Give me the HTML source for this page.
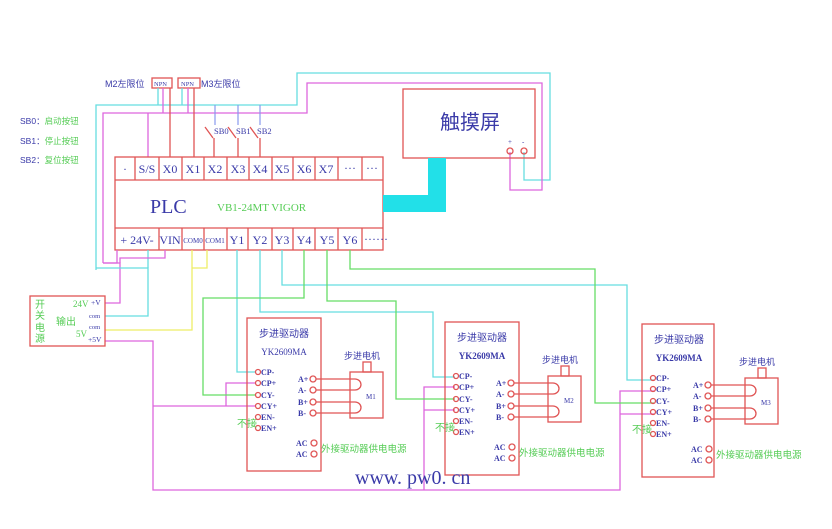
<!DOCTYPE html>
<html><head><meta charset="utf-8"><style>
html,body{margin:0;padding:0;background:#fff;}
svg{display:block;}
text{font-family:"Liberation Serif","Noto Serif CJK SC",serif;}
.cj{font-family:"Liberation Sans","Noto Sans CJK SC",sans-serif;}
.b{fill:#3a3aa8;}
.g{fill:#55cc55;}
.r{stroke:#e05555;fill:none;stroke-width:1.3;}
.c{stroke:#66dde0;fill:none;stroke-width:1.3;}
.m{stroke:#dd66dd;fill:none;stroke-width:1.3;}
.gr{stroke:#66dd66;fill:none;stroke-width:1.3;}
.y{stroke:#eeee66;fill:none;stroke-width:1.3;}
.bl{stroke:#8899ee;fill:none;stroke-width:1.2;}
</style></head><body>
<svg width="832" height="529" viewBox="0 0 832 529" xmlns="http://www.w3.org/2000/svg">
<!-- top wires -->
<polyline class="c" points="96,270 96,105 297,105 297,73 550,73 550,180 524,180 524,152"/>
<polyline class="m" points="103,263 103,113 307,113 307,83 542,83 542,190 510,190 510,152"/>
<!-- limit switches -->
<rect x="152" y="78" width="20" height="10" class="r"/>
<rect x="178" y="78" width="22" height="10" class="r"/>
<text x="154" y="86" font-size="6.5" class="b">NPN</text>
<text x="181" y="86" font-size="6.5" class="b">NPN</text>
<text x="105" y="87" font-size="9" class="b cj">M2左限位</text>
<text x="201" y="87" font-size="9" class="b cj">M3左限位</text>
<line class="c" x1="158" y1="88" x2="158" y2="105"/>
<line class="m" x1="163" y1="88" x2="163" y2="113"/>
<line class="r" x1="170" y1="88" x2="170" y2="157"/>
<line class="c" x1="182" y1="88" x2="182" y2="105"/>
<line class="m" x1="188" y1="88" x2="188" y2="113"/>
<line class="r" x1="194" y1="88" x2="194" y2="157"/>
<line class="m" x1="148" y1="113" x2="148" y2="157"/>
<!-- buttons -->
<line class="bl" x1="215" y1="105" x2="215" y2="125"/>
<line class="bl" x1="238" y1="105" x2="238" y2="125"/>
<line class="bl" x1="260" y1="105" x2="260" y2="125"/>
<line class="r" x1="205" y1="127" x2="213" y2="138"/>
<line class="r" x1="228" y1="127" x2="236" y2="138"/>
<line class="r" x1="250" y1="127" x2="258" y2="138"/>
<line class="r" x1="214" y1="138" x2="214" y2="157"/>
<line class="r" x1="238" y1="138" x2="238" y2="157"/>
<line class="r" x1="260" y1="138" x2="260" y2="157"/>
<text x="214" y="134" font-size="8.5" class="b">SB0</text>
<text x="236" y="134" font-size="8.5" class="b">SB1</text>
<text x="257" y="134" font-size="8.5" class="b">SB2</text>
<text x="20" y="124" font-size="8.5" class="cj"><tspan class="b">SB0：</tspan><tspan class="g">启动按钮</tspan></text>
<text x="20" y="144" font-size="8.5" class="cj"><tspan class="b">SB1：</tspan><tspan class="g">停止按钮</tspan></text>
<text x="20" y="163" font-size="8.5" class="cj"><tspan class="b">SB2：</tspan><tspan class="g">复位按钮</tspan></text>
<!-- PLC -->
<rect x="115" y="157" width="268" height="93" class="r"/>
<line class="r" x1="115" y1="180" x2="383" y2="180"/>
<line class="r" x1="115" y1="228" x2="383" y2="228"/>
<g class="r">
<line x1="135" y1="157" x2="135" y2="180"/><line x1="159" y1="157" x2="159" y2="180"/><line x1="182" y1="157" x2="182" y2="180"/><line x1="204" y1="157" x2="204" y2="180"/><line x1="227" y1="157" x2="227" y2="180"/><line x1="249" y1="157" x2="249" y2="180"/><line x1="272" y1="157" x2="272" y2="180"/><line x1="293" y1="157" x2="293" y2="180"/><line x1="315" y1="157" x2="315" y2="180"/><line x1="338" y1="157" x2="338" y2="180"/><line x1="362" y1="157" x2="362" y2="180"/>
<line x1="159" y1="228" x2="159" y2="250"/><line x1="182" y1="228" x2="182" y2="250"/><line x1="204" y1="228" x2="204" y2="250"/><line x1="227" y1="228" x2="227" y2="250"/><line x1="248" y1="228" x2="248" y2="250"/><line x1="272" y1="228" x2="272" y2="250"/><line x1="293" y1="228" x2="293" y2="250"/><line x1="315" y1="228" x2="315" y2="250"/><line x1="338" y1="228" x2="338" y2="250"/><line x1="362" y1="228" x2="362" y2="250"/>
</g>
<g font-size="12" class="b" text-anchor="middle">
<text x="125" y="173">·</text><text x="147" y="173">S/S</text><text x="170" y="173">X0</text><text x="193" y="173">X1</text><text x="215" y="173">X2</text><text x="238" y="173">X3</text><text x="260" y="173">X4</text><text x="282" y="173">X5</text><text x="304" y="173">X6</text><text x="326" y="173">X7</text><text x="350" y="172">···</text><text x="372" y="172">···</text>
<text x="137" y="244">+ 24V-</text><text x="170" y="244">VIN</text><text x="193" y="243" font-size="7">COM0</text><text x="215" y="243" font-size="7">COM1</text><text x="237" y="244">Y1</text><text x="260" y="244">Y2</text><text x="282" y="244">Y3</text><text x="304" y="244">Y4</text><text x="327" y="244">Y5</text><text x="350" y="244">Y6</text>
</g>
<text x="364" y="243" font-size="12" class="b">······</text>
<text x="150" y="213" font-size="20" class="b">PLC</text>
<text x="217" y="211" font-size="11" class="g">VB1-24MT  VIGOR</text>
<!-- touch screen -->
<rect x="403" y="89" width="132" height="69" class="r"/>
<text x="470" y="129" font-size="20" class="b cj" text-anchor="middle">触摸屏</text>
<text x="508" y="144" font-size="7" class="b">+</text><text x="522" y="144" font-size="7" class="b">-</text>
<circle cx="510" cy="151" r="3" class="r"/><circle cx="524" cy="151" r="3" class="r"/>
<path d="M383,195 H428 V158 H446 V212 H383 Z" fill="#22e0e8"/>
<!-- lower PLC wires -->
<polyline class="m" points="117,250 117,263 103,263"/>
<polyline class="m" points="103,263 120,263 120,303 105,303"/>
<polyline class="c" points="96,268 148,268 148,316 105,316"/>
<line class="c" x1="148" y1="250" x2="148" y2="268"/>
<polyline class="m" points="165,250 165,258 120,258 120,263"/>
<polyline class="y" points="192,250 192,330 105,330"/>
<polyline class="y" points="207,250 207,268 192,268"/>
<polyline class="m" points="105,341 153,341 153,490 620,490 620,391 655,391"/>
<line class="m" x1="153" y1="406" x2="256" y2="406"/>
<polyline class="m" points="226,406 226,383 256,383"/>
<polyline class="m" points="424,490 424,387 455,387"/>
<line class="m" x1="424" y1="410" x2="455" y2="410"/>
<line class="m" x1="620" y1="414" x2="654" y2="414"/>
<polyline class="c" points="237,250 237,372 255,372"/>
<polyline class="c" points="260,250 260,312 433,312 433,377 455,377"/>
<polyline class="c" points="282,250 282,285 627,285 627,380 654,380"/>
<polyline class="gr" points="304,250 304,298 203,298 203,395 255,395"/>
<polyline class="gr" points="327,250 327,301 396,301 396,399 455,399"/>
<polyline class="gr" points="350,250 350,269 595,269 595,403 654,403"/>
<!-- power supply -->
<rect x="30" y="296" width="75" height="50" class="r"/>
<text x="35" y="308" font-size="10" class="g cj">开</text><text x="35" y="319" font-size="10" class="g cj">关</text><text x="35" y="331" font-size="10" class="g cj">电</text><text x="35" y="342" font-size="10" class="g cj">源</text>
<text x="56" y="325" font-size="10" class="g cj">输出</text>
<text x="73" y="307" font-size="9" class="g">24V</text><text x="76" y="337" font-size="9" class="g">5V</text>
<text x="91" y="305" font-size="7.5" class="b">+V</text><text x="89" y="318" font-size="6.5" class="b">com</text><text x="89" y="329" font-size="6.5" class="b">com</text><text x="88" y="342" font-size="7.5" class="b">+5V</text>
<!-- drivers -->
<g id="d1">
<rect x="247" y="318" width="74" height="153" class="r"/>
<text x="284" y="337" font-size="10" class="b cj" text-anchor="middle">步进驱动器</text>
<text x="284" y="355" font-size="9" class="b" text-anchor="middle">YK2609MA</text>
<g class="r"><circle cx="258" cy="372" r="2.5"/><circle cx="258" cy="383" r="2.5"/><circle cx="258" cy="395" r="2.5"/><circle cx="258" cy="406" r="2.5"/><circle cx="258" cy="417" r="2.5"/><circle cx="258" cy="428" r="2.5"/>
<circle cx="313" cy="379" r="3"/><circle cx="313" cy="390" r="3"/><circle cx="313" cy="402" r="3"/><circle cx="313" cy="413" r="3"/><circle cx="314" cy="443" r="3"/><circle cx="314" cy="454" r="3"/></g>
<g font-size="8" class="b" font-weight="bold"><text x="261" y="375">CP-</text><text x="261" y="386">CP+</text><text x="261" y="398">CY-</text><text x="261" y="409">CY+</text><text x="261" y="420">EN-</text><text x="261" y="431">EN+</text>
<text x="298" y="382">A+</text><text x="298" y="393">A-</text><text x="298" y="405">B+</text><text x="298" y="416">B-</text><text x="296" y="446">AC</text><text x="296" y="457">AC</text></g>
<text x="237" y="427" font-size="10" class="g cj">不接</text>
<text x="321" y="452" font-size="9.5" class="g cj">外接驱动器供电电源</text>
<text x="344" y="359" font-size="9" class="b cj">步进电机</text>
<rect x="363" y="362" width="8" height="10" class="r"/>
<rect x="350" y="372" width="33" height="46" class="r"/>
<g class="r"><line x1="316" y1="379" x2="355" y2="379"/><line x1="316" y1="390" x2="355" y2="390"/><line x1="316" y1="402" x2="355" y2="402"/><line x1="316" y1="413" x2="355" y2="413"/>
<path d="M355,379 A6,5.5 0 0 1 355,390"/><path d="M355,402 A6,5.5 0 0 1 355,413"/></g>
<text x="366" y="399" font-size="7" class="b">M1</text>
</g>
<g transform="translate(198,4)">
<rect x="247" y="318" width="74" height="153" class="r"/>
<text x="284" y="337" font-size="10" class="b cj" text-anchor="middle">步进驱动器</text>
<text x="284" y="355" font-size="9" class="b" text-anchor="middle" font-weight="bold">YK2609MA</text>
<g class="r"><circle cx="258" cy="372" r="2.5"/><circle cx="258" cy="383" r="2.5"/><circle cx="258" cy="395" r="2.5"/><circle cx="258" cy="406" r="2.5"/><circle cx="258" cy="417" r="2.5"/><circle cx="258" cy="428" r="2.5"/>
<circle cx="313" cy="379" r="3"/><circle cx="313" cy="390" r="3"/><circle cx="313" cy="402" r="3"/><circle cx="313" cy="413" r="3"/><circle cx="314" cy="443" r="3"/><circle cx="314" cy="454" r="3"/></g>
<g font-size="8" class="b" font-weight="bold"><text x="261" y="375">CP-</text><text x="261" y="386">CP+</text><text x="261" y="398">CY-</text><text x="261" y="409">CY+</text><text x="261" y="420">EN-</text><text x="261" y="431">EN+</text>
<text x="298" y="382">A+</text><text x="298" y="393">A-</text><text x="298" y="405">B+</text><text x="298" y="416">B-</text><text x="296" y="446">AC</text><text x="296" y="457">AC</text></g>
<text x="237" y="427" font-size="10" class="g cj">不接</text>
<text x="321" y="452" font-size="9.5" class="g cj">外接驱动器供电电源</text>
<text x="344" y="359" font-size="9" class="b cj">步进电机</text>
<rect x="363" y="362" width="8" height="10" class="r"/>
<rect x="350" y="372" width="33" height="46" class="r"/>
<g class="r"><line x1="316" y1="379" x2="355" y2="379"/><line x1="316" y1="390" x2="355" y2="390"/><line x1="316" y1="402" x2="355" y2="402"/><line x1="316" y1="413" x2="355" y2="413"/>
<path d="M355,379 A6,5.5 0 0 1 355,390"/><path d="M355,402 A6,5.5 0 0 1 355,413"/></g>
<text x="366" y="399" font-size="7" class="b">M2</text>
</g>
<g transform="translate(395,6)">
<rect x="247" y="318" width="72" height="153" class="r"/>
<text x="284" y="337" font-size="10" class="b cj" text-anchor="middle">步进驱动器</text>
<text x="284" y="355" font-size="9" class="b" text-anchor="middle" font-weight="bold">YK2609MA</text>
<g class="r"><circle cx="258" cy="372" r="2.5"/><circle cx="258" cy="383" r="2.5"/><circle cx="258" cy="395" r="2.5"/><circle cx="258" cy="406" r="2.5"/><circle cx="258" cy="417" r="2.5"/><circle cx="258" cy="428" r="2.5"/>
<circle cx="313" cy="379" r="3"/><circle cx="313" cy="390" r="3"/><circle cx="313" cy="402" r="3"/><circle cx="313" cy="413" r="3"/><circle cx="314" cy="443" r="3"/><circle cx="314" cy="454" r="3"/></g>
<g font-size="8" class="b" font-weight="bold"><text x="261" y="375">CP-</text><text x="261" y="386">CP+</text><text x="261" y="398">CY-</text><text x="261" y="409">CY+</text><text x="261" y="420">EN-</text><text x="261" y="431">EN+</text>
<text x="298" y="382">A+</text><text x="298" y="393">A-</text><text x="298" y="405">B+</text><text x="298" y="416">B-</text><text x="296" y="446">AC</text><text x="296" y="457">AC</text></g>
<text x="237" y="427" font-size="10" class="g cj">不接</text>
<text x="321" y="452" font-size="9.5" class="g cj">外接驱动器供电电源</text>
<text x="344" y="359" font-size="9" class="b cj">步进电机</text>
<rect x="363" y="362" width="8" height="10" class="r"/>
<rect x="350" y="372" width="33" height="46" class="r"/>
<g class="r"><line x1="316" y1="379" x2="355" y2="379"/><line x1="316" y1="390" x2="355" y2="390"/><line x1="316" y1="402" x2="355" y2="402"/><line x1="316" y1="413" x2="355" y2="413"/>
<path d="M355,379 A6,5.5 0 0 1 355,390"/><path d="M355,402 A6,5.5 0 0 1 355,413"/></g>
<text x="366" y="399" font-size="7" class="b">M3</text>
</g>
<text x="355" y="484" font-size="20" class="b">www. pw0. cn</text>
</svg>
</body></html>
